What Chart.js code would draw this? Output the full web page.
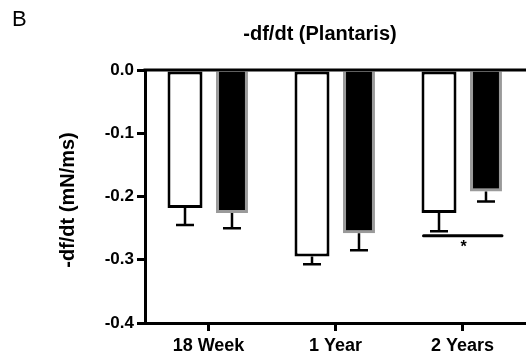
<!DOCTYPE html>
<html>
<head>
<meta charset="utf-8">
<script src="https://cdn.jsdelivr.net/npm/chart.js@4/dist/chart.umd.min.js"></script>
<style>
  html, body { margin: 0; padding: 0; background: #fff; }
  #wrap { width: 526px; height: 360px; }
</style>
</head>
<body>
<div id="wrap"><canvas id="c" width="526" height="360"></canvas></div>
<script>
// ---- data ----
const categories = ['18 Week', '1 Year', '2 Years'];
const whiteValues = [-0.218, -0.295, -0.226];
const whiteSEM = [0.027, 0.012, 0.029];
const blackValues = [-0.226, -0.258, -0.192];
const blackSEM = [0.024, 0.027, 0.016];
const yTickValues = [0, -0.1, -0.2, -0.3, -0.4];
const yTickLabels = ['0.0', '-0.1', '-0.2', '-0.3', '-0.4'];
const chartTitle = '-df/dt (Plantaris)';
const panelLetter = 'B';
const yAxisTitle = '-df/dt (mN/ms)';
const sigCategoryIndex = 2;
const sigLevel = -0.262;
const sigLabel = '*';

const FONT = '"Liberation Sans", Arial, Helvetica, sans-serif';

const extrasPlugin = {
  id: 'extras',
  afterDatasetsDraw(chart) {
    const ctx = chart.ctx;
    const y = chart.scales.y;
    const area = chart.chartArea;
    ctx.save();
    // zero line across top
    ctx.strokeStyle = '#000';
    ctx.lineWidth = 3;
    const y0 = y.getPixelForValue(0);
    ctx.beginPath();
    ctx.moveTo(area.left - 1.5, y0);
    ctx.lineTo(area.right, y0);
    ctx.stroke();
    // error bars (downward only)
    const sems = [whiteSEM, blackSEM];
    chart.data.datasets.forEach((ds, di) => {
      const meta = chart.getDatasetMeta(di);
      meta.data.forEach((el, i) => {
        const v = ds.data[i];
        const yEnd = y.getPixelForValue(v - sems[di][i]);
        ctx.lineWidth = 2.5;
        ctx.strokeStyle = '#000';
        ctx.beginPath();
        ctx.moveTo(el.x, el.y);
        ctx.lineTo(el.x, yEnd);
        ctx.moveTo(el.x - 9, yEnd);
        ctx.lineTo(el.x + 9, yEnd);
        ctx.stroke();
      });
    });
    // significance bar
    const w = chart.getDatasetMeta(0).data[sigCategoryIndex];
    const b = chart.getDatasetMeta(1).data[sigCategoryIndex];
    const left = w.x - w.width / 2 + 2;
    const right = b.x + b.width / 2;
    const ys = y.getPixelForValue(sigLevel);
    ctx.lineWidth = 3;
    ctx.lineCap = 'round';
    ctx.beginPath();
    ctx.moveTo(left, ys);
    ctx.lineTo(right, ys);
    ctx.stroke();
    ctx.fillStyle = '#000';
    ctx.font = 'bold 16px ' + FONT;
    ctx.textAlign = 'center';
    ctx.textBaseline = 'middle';
    ctx.fillText(sigLabel, (left + right) / 2 + 1, ys + 12);
    ctx.restore();
  },
  afterDraw(chart) {
    const ctx = chart.ctx;
    ctx.save();
    ctx.fillStyle = '#000';
    ctx.textBaseline = 'middle';
    ctx.textAlign = 'left';
    ctx.font = '22px ' + FONT;
    ctx.fillText(panelLetter, 12, 20);
    ctx.textAlign = 'center';
    ctx.font = 'bold 20px ' + FONT;
    ctx.fillText(chartTitle, 320, 34);
    ctx.translate(68, 200);
    ctx.rotate(-Math.PI / 2);
    ctx.font = 'bold 20px ' + FONT;
    ctx.fillText(yAxisTitle, 0, 0);
    ctx.restore();
  }
};

new Chart(document.getElementById('c'), {
  type: 'bar',
  data: {
    labels: categories,
    datasets: [
      {
        data: whiteValues,
        backgroundColor: '#ffffff',
        borderColor: '#000000',
        borderWidth: 3,
        borderSkipped: false,
        barPercentage: 0.745,
        categoryPercentage: 0.74
      },
      {
        data: blackValues,
        backgroundColor: '#000000',
        borderColor: '#9a9a9a',
        borderWidth: 3,
        borderSkipped: 'start',
        barPercentage: 0.68,
        categoryPercentage: 0.74
      }
    ]
  },
  options: {
    responsive: false,
    animation: false,
    devicePixelRatio: 1,
    layout: { padding: { top: 70, left: 0, right: 0, bottom: 0 } },
    plugins: {
      legend: { display: false },
      title: { display: false },
      tooltip: { enabled: false }
    },
    scales: {
      x: {
        grid: {
          offset: false,
          drawOnChartArea: false,
          color: '#000',
          lineWidth: 3,
          tickLength: 8
        },
        border: { display: true, color: '#000', width: 3 },
        ticks: {
          color: '#000',
          padding: 4,
          font: { family: FONT, size: 18, weight: 'bold' },
          maxRotation: 0
        },
        afterFit(scale) { scale.height = 37; }
      },
      y: {
        min: -0.4,
        max: 0,
        afterBuildTicks(scale) {
          scale.ticks = yTickValues.map(v => ({ value: v }));
        },
        grid: {
          drawOnChartArea: false,
          color: '#000',
          lineWidth: 3,
          tickLength: 8
        },
        border: { display: true, color: '#000', width: 3 },
        ticks: {
          color: '#000',
          padding: 3,
          font: { family: FONT, size: 17, weight: 'bold' },
          callback(value) {
            const i = yTickValues.findIndex(t => Math.abs(t - value) < 1e-9);
            return i >= 0 ? yTickLabels[i] : '';
          }
        },
        afterFit(scale) { scale.width = 145; }
      }
    }
  },
  plugins: [extrasPlugin]
});
</script>
</body>
</html>
